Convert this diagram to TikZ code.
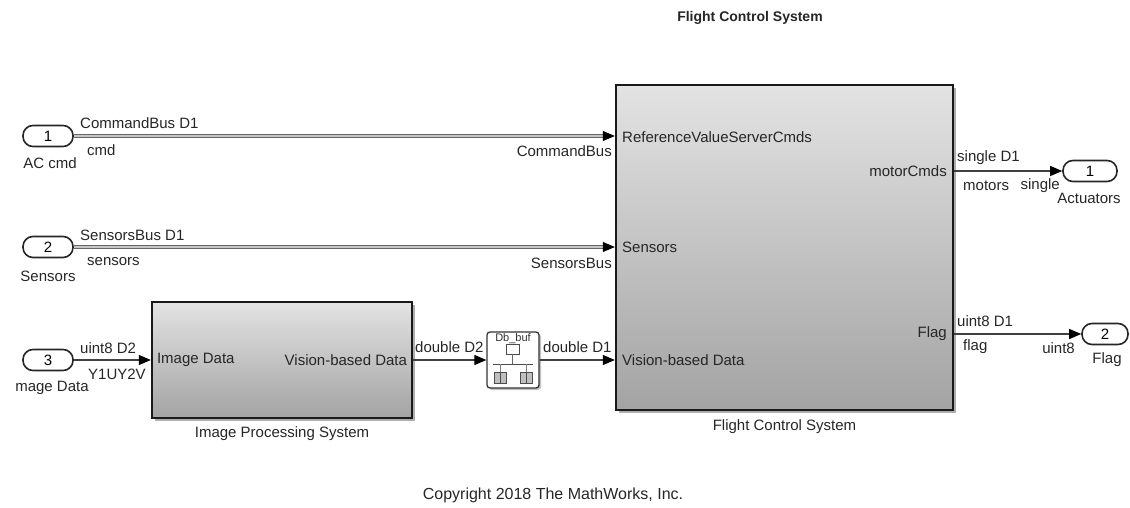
\documentclass[tikz,border=0pt]{standalone}
\usepackage{fontspec}
\setmainfont{Liberation Sans}
\usetikzlibrary{arrows.meta,shadows,calc}
\begin{document}
\begin{tikzpicture}[x=1pt,y=-1pt,
  lab/.style={font=\fontsize{15}{18}\selectfont, inner sep=0pt, text=black!85},
  portbox/.style={draw=black!85, line width=1.6pt, rounded corners=10pt, minimum width=50pt, minimum height=21pt, inner sep=0pt, font=\fontsize{15}{18}\selectfont, fill=white},
  blockbox/.style={draw=black!90, line width=2.4pt, top color=black!11, bottom color=black!36, drop shadow={shadow xshift=3pt, shadow yshift=-3pt, fill=black!45, opacity=0.7}, inner sep=0pt},
  sig/.style={draw=black!75, line width=1.1pt, -{Triangle[length=12pt,width=10pt,fill=black,color=black]}},
  bus/.style={draw=black!60, line width=0.8pt, double=black!22, double distance=1.8pt, -{Triangle[length=12pt,width=10pt,fill=black,color=black]}},
]
\useasboundingbox (0,0) rectangle (1130,508);

% title and copyright
\node[font=\bfseries\fontsize{14}{17}\selectfont, inner sep=0pt, text=black!85] (title) at (750,18) {Flight Control System};
\node[font=\fontsize{16}{19}\selectfont, inner sep=0pt, text=black!85] (copy) at (553,495) {Copyright 2018 The MathWorks, Inc.};

% inports
\node[portbox] (in1) at (48,136) {1};
\node[portbox] (in2) at (48,247) {2};
\node[portbox] (in3) at (48,360) {3};
\node[lab] (in1l) at (50,163) {AC cmd};
\node[lab] (in2l) at (48,276) {Sensors};
\node[lab] (in3l) at (52,388) {mage Data};

% blocks
\node[blockbox, minimum width=260pt, minimum height=116pt] (ips) at (282,360) {};
\node[lab] (ipsl) at (282,434) {Image Processing System};
\node[lab, anchor=west] (ipsin) at ([xshift=6pt]ips.west) {Image Data};
\node[lab, anchor=east] (ipsout) at ([xshift=-6pt]ips.east) {Vision-based Data};

\node[blockbox, minimum width=337pt, minimum height=325pt] (fcs) at (784.5,247.5) {};
\node[lab] (fcsl) at (784.5,427) {Flight Control System};
\node[lab, anchor=west] (fcsin1) at (622,137) {ReferenceValueServerCmds};
\node[lab, anchor=west] (fcsin2) at (622,247) {Sensors};
\node[lab, anchor=west] (fcsin3) at (622,360) {Vision-based Data};
\node[lab, anchor=east] (fcsout1) at (947,171) {motorCmds};
\node[lab, anchor=east] (fcsout2) at (947,334) {Flag};

% buffer block
\node[draw=black!80, line width=1.3pt, fill=white, rounded corners=3pt, minimum width=52pt, minimum height=56pt, inner sep=0pt, drop shadow={shadow xshift=2pt, shadow yshift=-2pt, fill=black!40, opacity=0.6}] (buf) at (513,360) {};
\node[font=\fontsize{11}{12}\selectfont, inner sep=0pt, text=black!80] (bufl) at (513,339) {Db\_buf};
\draw[black!70, line width=0.9pt] (506,344) rectangle (519,354);
\draw[black!60, line width=0.6pt] (512.5,354) -- (512.5,364);
\draw[black!70, line width=0.9pt] (493,364) -- (533,364);
\draw[black!50, line width=0.6pt] (500,364) -- (500,372) (526,364) -- (526,372);
\draw[black!70, fill=black!25, line width=0.9pt] (494,372) rectangle (506,383);
\draw[black!70, fill=black!25, line width=0.9pt] (520,372) rectangle (532,383);
\draw[black!70, line width=0.9pt] (500,372) -- (500,383) (526,372) -- (526,383);

% outports
\node[portbox, minimum width=54pt] (out1) at (1090,171) {1};
\node[portbox, minimum width=46pt] (out2) at (1105,334) {2};
\node[lab] (out1l) at (1089,198) {Actuators};
\node[lab] (out2l) at (1107,360) {Flag};

% connectors
\draw[bus] (in1.east) -- (in1.east -| fcs.west);
\draw[bus] (in2.east) -- (in2.east -| fcs.west);
\draw[sig] (in3.east) -- (ips.west);
\draw[sig] (ips.east) -- (buf.west);
\draw[sig] (buf.east) -- (buf.east -| fcs.west);
\draw[sig] (out1.west -| fcs.east) -- (out1.west);
\draw[sig] (out2.west -| fcs.east) -- (out2.west);

% line labels
\node[lab, anchor=west] (l1a) at (80,123) {CommandBus D1};
\node[lab, anchor=west] (l1b) at (87,150) {cmd};
\node[lab, anchor=east] (l1c) at (612,151) {CommandBus};
\node[lab, anchor=west] (l2a) at (80,235) {SensorsBus D1};
\node[lab, anchor=west] (l2b) at (87,262) {sensors};
\node[lab, anchor=east] (l2c) at (612,263) {SensorsBus};
\node[lab, anchor=west] (l3a) at (80,348) {uint8 D2};
\node[lab, anchor=west] (l3b) at (88,374) {Y1UY2V};
\node[lab, anchor=west] (l4a) at (415,347) {double D2};
\node[lab, anchor=west] (l5a) at (543,347) {double D1};
\node[lab, anchor=west] (l6a) at (957,158) {single D1};
\node[lab, anchor=west] (l6b) at (963,186) {motors};
\node[lab, anchor=east] (l6c) at (1060,186) {single};
\node[lab, anchor=west] (l7a) at (957,321) {uint8 D1};
\node[lab, anchor=west] (l7b) at (963,347) {flag};
\node[lab, anchor=east] (l7c) at (1075,348) {uint8};
\end{tikzpicture}
\end{document}
